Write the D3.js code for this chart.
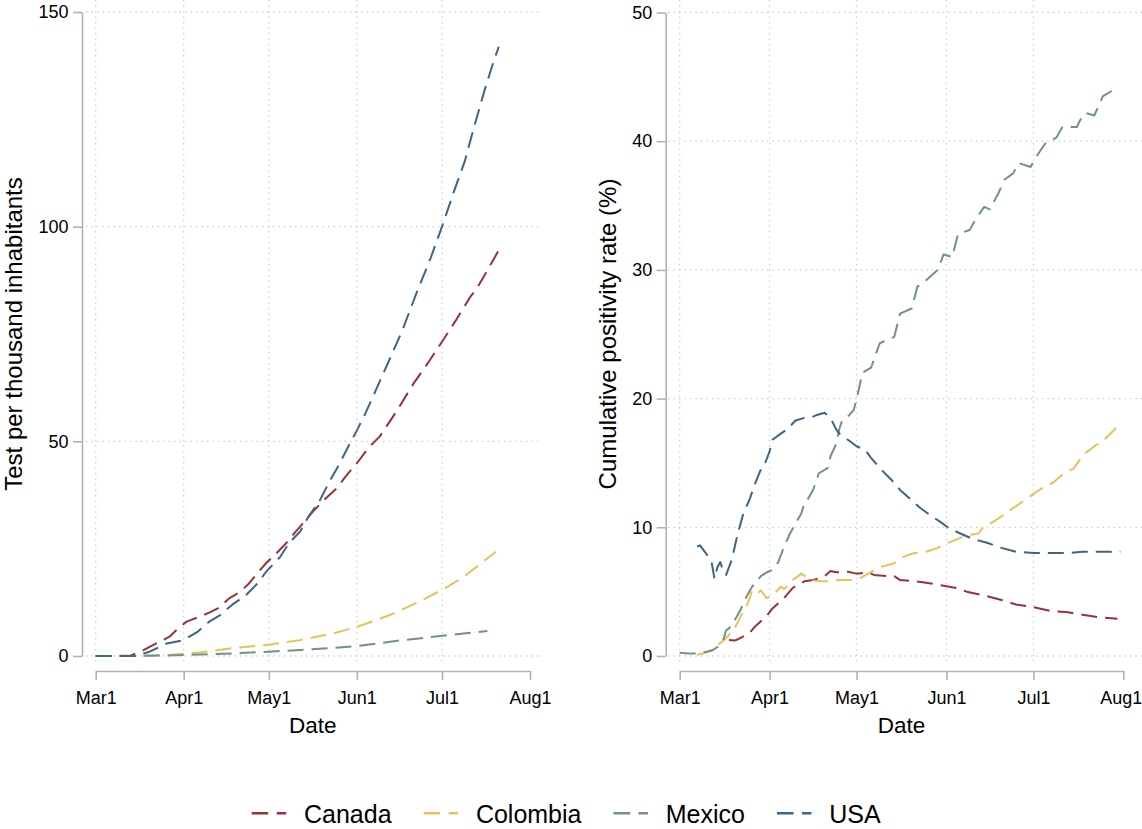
<!DOCTYPE html>
<html>
<head>
<meta charset="utf-8">
<script src="https://cdnjs.cloudflare.com/ajax/libs/d3/7.8.5/d3.min.js"></script>
<style>
  body { margin: 0; background: #fff; }
  text { font-family: "Liberation Sans", Arial, sans-serif; fill: #000; }
</style>
</head>
<body>
<svg id="chart" width="1142" height="829"></svg>
<script>
// countries, in drawing order
var countries = ["Canada", "Colombia", "Mexico", "USA"];
var colors = ["#9a3139", "#e3c459", "#71918a", "#3d6587"];

// x ticks (2020)
var monthTicks = ["2020-03-01", "2020-04-01", "2020-05-01", "2020-06-01", "2020-07-01", "2020-08-01"];
var monthLabels = ["Mar1", "Apr1", "May1", "Jun1", "Jul1", "Aug1"];

// y ticks
var testTicks = [0, 50, 100, 150];
var posTicks = [0, 10, 20, 30, 40, 50];

// tests per thousand inhabitants: [days since Mar1, value]
var testsCanada = [[0,0],[12,0],[17,1.4],[21,2.8],[26,4.5],[29,6.4],[32,8.0],[36,9.0],[40,10.1],[43,11.1],[47,13.4],[51,15.0],[54,16.9],[57,19.3],[60,21.6],[63,23.5],[67,26.2],[70,28.6],[73,30.9],[77,34.0],[81,36.7],[85,39.1],[88,41.8],[92,44.9],[96,48.4],[100,51.1],[104,55.0],[107,58.1],[112,63.5],[117,68.2],[122,73.2],[127,78.3],[132,83.7],[134,85.3],[137,88.7],[140,92.2],[143,95.7]];
var testsColombia = [[0,0],[14,0],[20,0.1],[25,0.2],[37,0.85],[48,1.8],[61,2.6],[72,3.7],[84,5.3],[92,6.8],[99,8.4],[105,9.9],[115,13.0],[122,15.4],[129,18.1],[135,21.2],[141,24.3]];
var testsMexico = [[0,0],[25,0.1],[48,0.6],[61,1.0],[72,1.4],[84,1.9],[92,2.3],[107,3.6],[122,4.7],[138,5.8]];
var testsUSA = [[0,0],[14,0],[19,1.0],[25,2.9],[31,3.7],[36,5.7],[40,8.0],[44,9.6],[48,11.9],[53,14.2],[57,16.9],[60,19.6],[65,23.1],[68,26.2],[72,29.0],[75,32.5],[79,36.3],[82,40.2],[86,44.9],[89,48.8],[92,52.5],[95,56.5],[98,60.9],[103,68.3],[108,75.8],[113,84.5],[118,92.7],[122,100],[126,107.8],[130,115.2],[133,122.5],[137,131.8],[140,138.1],[142,141.9]];

// cumulative positivity rate (%): [days since Mar1, value]
var posCanada = [[17,1.24],[19,1.2],[20,1.3],[24,1.76],[26,2.3],[30,3.1],[32,3.7],[36,4.5],[39,5.3],[43,5.8],[46,5.9],[50,6.2],[52,6.6],[54,6.5],[58,6.55],[61,6.4],[65,6.5],[67,6.3],[72,6.2],[74,6.2],[76,5.9],[81,5.8],[85,5.7],[90,5.5],[95,5.3],[99,5.0],[105,4.7],[111,4.35],[116,4.0],[122,3.8],[128,3.5],[134,3.4],[139,3.2],[145,3.0],[151,2.9]];
var posColombia = [[6,0.1],[8,0.2],[11,0.47],[14,1.0],[16,1.4],[19,2.15],[21,3.1],[23,3.8],[25,5.1],[27,4.9],[28,5.1],[30,4.5],[32,4.7],[35,5.4],[36,5.2],[39,5.9],[42,6.4],[45,5.9],[48,5.8],[52,5.8],[55,5.9],[59,5.9],[62,6.0],[65,6.4],[69,6.9],[74,7.2],[77,7.7],[81,8.0],[85,8.1],[89,8.4],[92,8.75],[96,9.1],[99,9.4],[103,9.5],[105,10.1],[108,10.4],[112,11.0],[115,11.5],[119,12.1],[122,12.6],[126,13.2],[129,13.5],[132,14.1],[136,14.6],[139,15.6],[143,16.3],[146,16.7],[150,17.6],[152,18.1]];
var posMexico = [[0,0.26],[3,0.2],[5,0.2],[8,0.26],[11,0.4],[13,0.7],[15,1.2],[16,2.0],[17,2.15],[19,2.8],[21,3.6],[23,4.6],[25,5.4],[28,6.2],[30,6.5],[32,6.7],[34,7.3],[36,8.5],[38,9.5],[40,10.3],[42,11.1],[43,11.9],[44,12.1],[46,12.9],[48,14.2],[51,14.6],[52,15.5],[54,16.5],[55,17.6],[56,18.3],[58,18.6],[60,19.1],[61,19.9],[63,22.0],[66,22.4],[69,24.3],[74,24.8],[76,26.6],[80,27.0],[82,28.7],[85,29.2],[89,30.0],[91,31.2],[94,31.0],[96,32.8],[100,33.1],[102,33.9],[105,34.9],[107,34.7],[110,36.0],[112,37.0],[115,37.5],[117,38.3],[121,38.0],[123,38.8],[126,39.8],[130,40.3],[132,41.1],[137,41.1],[138,41.6],[140,42.2],[143,42.0],[146,43.5],[149,43.9]];
var posUSA = [[6,8.5],[7,8.6],[9,8.0],[11,7.3],[12,6.0],[13,6.9],[14,7.3],[15,6.6],[16,6.3],[18,7.5],[20,9.5],[22,11.1],[24,12.1],[26,13.4],[28,14.5],[29,14.7],[31,15.9],[32,16.8],[35,17.3],[37,17.6],[40,18.3],[43,18.5],[45,18.5],[47,18.7],[50,18.9],[52,18.5],[54,17.6],[55,17.3],[58,16.8],[61,16.3],[64,16.0],[66,15.4],[69,14.6],[73,13.7],[76,12.9],[80,12.1],[83,11.5],[86,11.0],[90,10.4],[93,9.9],[97,9.5],[101,9.1],[106,8.8],[111,8.4],[116,8.1],[122,8.0],[128,8.0],[134,8.0],[139,8.1],[145,8.1],[152,8.1]];

var svg = d3.select("#chart");
svg.append("rect").attr("width", 1142).attr("height", 829).attr("fill", "#fff");

var parseDay = d3.timeParse("%Y-%m-%d");
var startDate = parseDay(monthTicks[0]);
var monthDates = monthTicks.map(parseDay);

function toPoints(arr) {
    return arr.map(function(p) { return { date: d3.timeDay.offset(startDate, p[0]), value: p[1] }; });
}

var axisColor = "#b3b3b3";
var gridColor = "#c9c9c9";

function drawPanel(cfg) {
    var x = d3.scaleTime().domain([monthDates[0], monthDates[monthDates.length - 1]]).range(cfg.xRange);
    var y = d3.scaleLinear().domain([0, cfg.yMax]).range([656, cfg.yTop]);
    var g = svg.append("g");

    //grid, dotted
    g.selectAll(".hgrid").data(cfg.yTicks).join("line")
        .attr("x1", cfg.gridX[0]).attr("x2", cfg.gridX[1])
        .attr("y1", function(d) { return y(d); }).attr("y2", function(d) { return y(d); })
        .attr("stroke", gridColor).attr("stroke-width", 1.3).attr("stroke-dasharray", "1.3,4.2");
    g.selectAll(".vgrid").data(monthDates.slice(0, -1)).join("line")
        .attr("x1", function(d) { return x(d); }).attr("x2", function(d) { return x(d); })
        .attr("y1", 0).attr("y2", 665)
        .attr("stroke", gridColor).attr("stroke-width", 1.3).attr("stroke-dasharray", "1.3,4.2");

    //y axis, set off from the plot
    var yAxis = svg.append("g")
        .attr("transform", "translate(" + cfg.yAxisX + ",0)")
        .call(d3.axisLeft(y).tickValues(cfg.yTicks).tickSize(9).tickPadding(4.5).tickSizeOuter(0));
    //x axis
    var xAxis = svg.append("g")
        .attr("transform", "translate(0,671)")
        .call(d3.axisBottom(x).tickValues(monthDates)
            .tickFormat(function(d, i) { return monthLabels[i]; })
            .tickSize(9).tickPadding(11).tickSizeOuter(0));
    [yAxis, xAxis].forEach(function(a) {
        a.select(".domain").attr("stroke", axisColor).attr("stroke-width", 1.6);
        a.selectAll(".tick line").attr("stroke", axisColor).attr("stroke-width", 1.6);
        a.selectAll(".tick text").attr("font-size", 18).attr("fill", "#000")
            .style("font-family", "'Liberation Sans', Arial, sans-serif");
    });
    //keep the last month label inside the page
    xAxis.selectAll(".tick text").filter(function(d, i) { return i === monthDates.length - 1; })
        .attr("dx", cfg.lastDx);

    //titles
    svg.append("text")
        .attr("transform", "translate(" + cfg.titleX + ",334) rotate(-90)")
        .attr("text-anchor", "middle").attr("font-size", 24)
        .text(cfg.yTitle);
    svg.append("text")
        .attr("x", (cfg.xRange[0] + cfg.xRange[1]) / 2).attr("y", 733)
        .attr("text-anchor", "middle").attr("font-size", 22.5)
        .text("Date");

    //series
    var line = d3.line()
        .x(function(d) { return x(d.date); })
        .y(function(d) { return y(d.value); });
    g.selectAll(".series").data(cfg.series).join("path")
        .attr("d", function(d) { return line(toPoints(d)); })
        .attr("fill", "none")
        .attr("stroke", function(d, i) { return colors[i]; })
        .attr("stroke-width", 2)
        .attr("stroke-dasharray", "16,8")
        .attr("stroke-linejoin", "round");
}

drawPanel({
    xRange: [95.7, 530], yMax: 150, yTop: 12, yTicks: testTicks,
    gridX: [86, 541], yAxisX: 82, titleX: 22, lastDx: 0,
    yTitle: "Test per thousand inhabitants",
    series: [testsCanada, testsColombia, testsMexico, testsUSA]
});
drawPanel({
    xRange: [679.7, 1123.3], yMax: 50, yTop: 12.5, yTicks: posTicks,
    gridX: [668, 1142], yAxisX: 665.7, titleX: 615.5, lastDx: -2.5,
    yTitle: "Cumulative positivity rate (%)",
    series: [posCanada, posColombia, posMexico, posUSA]
});

//legend, one row at the bottom
var legend = svg.append("g");
var lx = 251.7;
countries.forEach(function(name, i) {
    legend.append("line")
        .attr("x1", lx).attr("x2", lx + 34.5)
        .attr("y1", 813.3).attr("y2", 813.3)
        .attr("stroke", colors[i]).attr("stroke-width", 2.4)
        .attr("stroke-dasharray", "16.5,8.5");
    var t = legend.append("text")
        .attr("x", lx + 52.3).attr("y", 823.3)
        .attr("font-size", 25)
        .text(name);
    lx = lx + 52.3 + t.node().getComputedTextLength() + 32;
});
</script>
</body>
</html>
